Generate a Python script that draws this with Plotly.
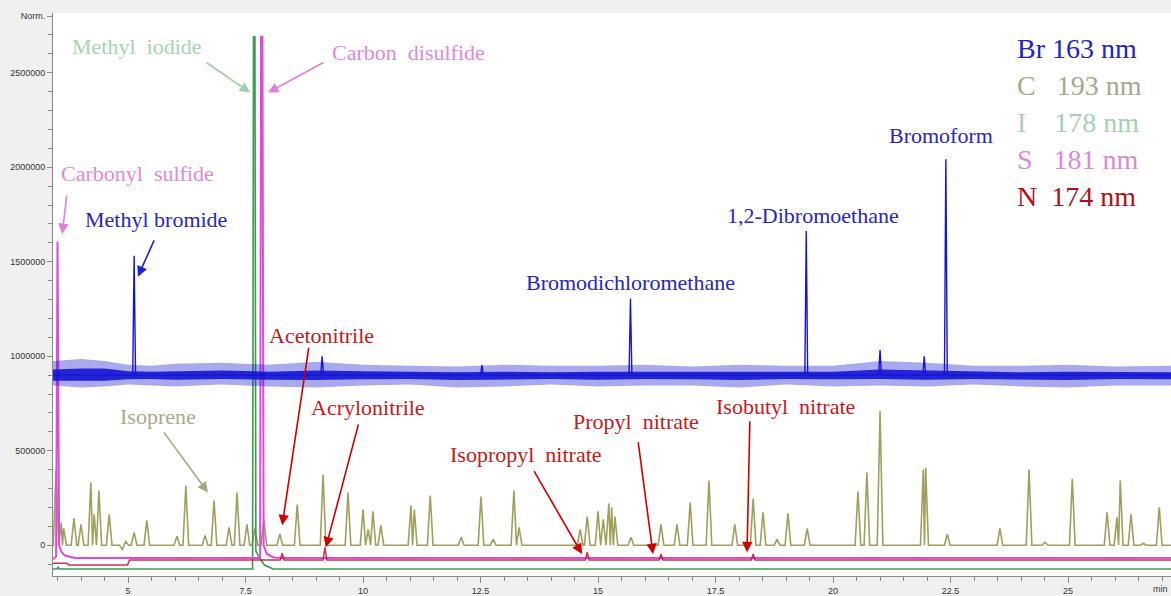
import plotly.graph_objects as go

# ---------------- data ----------------
X_RANGE = [3.404, 27.19]
Y_RANGE = [-163000, 2816000]

# C 193 nm (olive) : retention time (min) and peak height
C_TIMES = [3.47, 3.58, 3.63, 3.85, 4.00, 4.21, 4.28, 4.38, 4.60, 4.88, 4.95, 5.13, 5.40,
           6.04, 6.23, 6.64, 6.83, 7.15, 7.32, 7.53, 7.70, 7.89, 8.23, 8.60, 9.15,
           9.68, 10.00, 10.11, 10.21, 10.38, 11.02, 11.09, 11.43, 12.09, 12.51, 12.77,
           13.21, 13.32, 14.62, 14.77, 15.00, 15.11, 15.23, 15.29, 15.36, 15.70, 16.34,
           16.68, 16.96, 17.36, 17.91, 18.30, 18.51, 18.81, 19.04, 19.45, 20.53, 20.72,
           21.00, 21.92, 21.97, 22.43, 23.55, 24.17, 24.51, 25.09, 25.83, 26.04, 26.11,
           26.34, 26.60, 26.94]
C_HEIGHTS = [400000, 120000, 90000, 142000, 110000, 331000, 163000, 289000, 163000, -25000,
             20000, 68000, 131000, 47000, 315000, 52000, 236000, 94000, 278000, 110000,
             90000, 131000, 60000, 215000, 373000, 278000, 189000, 84000, 179000, 105000,
             210000, 189000, 263000, 42000, 258000, 32000, 289000, 94000, 84000, 152000,
             179000, 137000, 221000, 200000, 152000, 42000, 110000, 110000, 226000, 342000,
             110000, 247000, 174000, 32000, 168000, 89000, 284000, 384000, 710000, 400000,
             410000, 58000, 89000, 400000, 16000, 352000, 174000, 147000, 342000, 163000,
             10000, 200000]
C_BASE = 0

# Br 163 nm (blue) : noisy baseline band and peaks
BR_BASE = 900000
BR_TIMES = [5.13, 9.13, 12.53, 15.69, 19.43, 21.00, 21.94, 22.40]
BR_HEIGHTS = [1531000, 1000000, 953000, 1305000, 1663000, 1032000, 1000000, 2042000]
BAND_T = [3.404, 4.0, 4.5, 5.0, 5.5, 6.0, 7.0, 8.0, 9.0, 10.0, 11.0, 12.0, 13.0, 14.0,
          15.0, 16.0, 17.0, 18.0, 19.0, 20.0, 21.0, 22.0, 23.0, 24.0, 25.0, 26.0, 27.19]
BAND_OUT_HI = [975000, 985000, 975000, 955000, 950000, 960000, 965000, 955000, 970000, 955000,
               950000, 945000, 955000, 950000, 950000, 955000, 945000, 955000, 950000, 950000,
               975000, 965000, 950000, 950000, 955000, 945000, 950000]
BAND_OUT_LO = [845000, 835000, 840000, 850000, 845000, 840000, 850000, 840000, 835000, 845000,
               850000, 835000, 840000, 850000, 840000, 845000, 845000, 835000, 850000, 840000,
               845000, 840000, 850000, 840000, 835000, 845000, 845000]
BAND_IN_HI = [930000, 935000, 935000, 920000, 918000, 920000, 925000, 918000, 925000, 920000,
              918000, 915000, 918000, 915000, 918000, 918000, 915000, 918000, 915000, 918000,
              930000, 925000, 918000, 915000, 918000, 915000, 915000]
BAND_IN_LO = [870000, 868000, 870000, 878000, 880000, 876000, 880000, 876000, 874000, 878000,
              880000, 874000, 878000, 880000, 876000, 880000, 878000, 874000, 880000, 878000,
              880000, 876000, 880000, 876000, 874000, 880000, 878000]

# I 178 nm (green) trace points
I_T = [3.404, 3.49, 3.51, 3.54, 7.65, 7.67, 7.70, 7.72, 7.77, 7.90, 8.09, 27.19]
I_V = [-126000, -126000, -115000, -126000, -126000, 2690000, 2690000, -30000, -55000,
       -105000, -126000, -126000]

# S 181 nm (magenta) trace points
S_T = [3.404, 3.47, 3.50, 3.535, 3.58, 3.66, 3.87, 7.81, 7.83, 7.86, 7.885, 7.95, 8.10,
       8.30, 27.19]
S_V = [-75000, -60000, 1605000, 0, -35000, -55000, -68000, -68000, 2690000, 2690000, 0,
       -45000, -65000, -68000, -68000]

# N 174 nm (red) trace points
N_T = [3.404, 3.70, 3.74, 4.99, 5.03, 8.24, 8.28, 8.32, 9.15, 9.19, 9.23, 14.73, 14.77,
       14.81, 16.30, 16.34, 16.38, 18.26, 18.30, 18.34, 27.19]
N_V = [-95000, -95000, -105000, -105000, -78000, -78000, -42000, -78000, -78000, -12000,
       -78000, -78000, -37000, -78000, -78000, -47000, -78000, -78000, -47000, -78000,
       -78000]

X_TICKS = [5, 7.5, 10, 12.5, 15, 17.5, 20, 22.5, 25, 27.5]
X_TICKTEXT = ["5", "7.5", "10", "12.5", "15", "17.5", "20", "22.5", "25", "27.5"]
Y_TICKS = [0, 500000, 1000000, 1500000, 2000000, 2500000, 2800000]
Y_TICKTEXT = ["0", "500000", "1000000", "1500000", "2000000", "2500000", "Norm."]

# ---------------- styles ----------------
BLUE = "#1414d4"
BLUE_TXT = "#2626c2"
OLIVE = "#a0a05e"
OLIVE_TXT = "#a9a98b"
GREEN = "#3c9a4a"
GREEN_TXT = "#a8d2b4"
MAG = "#e048e0"
MAG_TXT = "#dc8adc"
RED = "#c0102a"
RED_TXT = "#c81818"
SERIF = "Liberation Serif, Times New Roman, serif"
SANS = "Liberation Sans, Arial, sans-serif"


def spikes(times, heights, base, hw, x0, x1):
    order = sorted(range(len(times)), key=lambda i: times[i])
    ts = [times[i] for i in order]
    hs = [heights[i] for i in order]
    xs, ys = [x0], [base]
    for k, (t, h) in enumerate(zip(ts, hs)):
        left = hw if k == 0 else min(hw, (t - ts[k - 1]) / 2)
        right = hw if k == len(ts) - 1 else min(hw, (ts[k + 1] - t) / 2)
        xs += [t - left, t, t + right]
        ys += [base, h, base]
    xs.append(x1)
    ys.append(base)
    return xs, ys


fig = go.Figure()

cx, cy = spikes(C_TIMES, C_HEIGHTS, C_BASE, 0.06, X_RANGE[0], X_RANGE[1])
fig.add_trace(go.Scatter(x=cx, y=cy, mode="lines", line=dict(color=OLIVE, width=1.6)))

fig.add_trace(go.Scatter(x=I_T, y=I_V, mode="lines", line=dict(color=GREEN, width=1.6)))
fig.add_trace(go.Scatter(x=S_T, y=S_V, mode="lines", line=dict(color=MAG, width=2)))
fig.add_trace(go.Scatter(x=N_T, y=N_V, mode="lines", line=dict(color=RED, width=1.5),
                         opacity=0.85))

# blue band (noise envelope)
fig.add_trace(go.Scatter(x=BAND_T, y=BAND_OUT_LO, mode="lines", line=dict(width=0),
                         hoverinfo="skip"))
fig.add_trace(go.Scatter(x=BAND_T, y=BAND_OUT_HI, mode="lines", line=dict(width=0),
                         fill="tonexty", fillcolor="rgba(30,30,215,0.38)", hoverinfo="skip"))
fig.add_trace(go.Scatter(x=BAND_T, y=BAND_IN_LO, mode="lines", line=dict(width=0),
                         hoverinfo="skip"))
fig.add_trace(go.Scatter(x=BAND_T, y=BAND_IN_HI, mode="lines", line=dict(width=0),
                         fill="tonexty", fillcolor="rgba(20,20,212,0.9)", hoverinfo="skip"))
bx, by = spikes(BR_TIMES, BR_HEIGHTS, BR_BASE, 0.03, X_RANGE[0], X_RANGE[1])
fig.add_trace(go.Scatter(x=bx, y=by, mode="lines", line=dict(color=BLUE, width=1.4)))

# ---------------- annotations ----------------
labels = [
    ("Methyl\u00a0 iodide", 5.19, 2637000, GREEN_TXT),
    ("Carbon\u00a0 disulfide", 10.96, 2605000, MAG_TXT),
    ("Carbonyl\u00a0 sulfide", 5.20, 1968000, MAG_TXT),
    ("Methyl bromide", 5.60, 1726000, BLUE_TXT),
    ("Bromodichloromethane", 15.68, 1389000, BLUE_TXT),
    ("1,2-Dibromoethane", 19.57, 1742000, BLUE_TXT),
    ("Bromoform", 22.30, 2168000, BLUE_TXT),
    ("Isoprene", 5.64, 679000, OLIVE_TXT),
    ("Acetonitrile", 9.11, 1110000, RED_TXT),
    ("Acrylonitrile", 10.11, 726000, RED_TXT),
    ("Isopropyl\u00a0 nitrate", 13.47, 479000, RED_TXT),
    ("Propyl\u00a0 nitrate", 15.81, 653000, RED_TXT),
    ("Isobutyl\u00a0 nitrate", 18.98, 732000, RED_TXT),
]
for txt, x, y, col in labels:
    fig.add_annotation(x=x, y=y, text=txt, showarrow=False, xref="x", yref="y",
                       font=dict(family=SERIF, size=22, color=col))

arrows = [  # tip x, tip y, tail x, tail y, colour
    (7.60, 2395000, 6.64, 2558000, "#9fd0aa"),
    (7.98, 2395000, 9.19, 2558000, "#e07ee0"),
    (3.60, 1647000, 3.70, 1858000, "#e07ee0"),
    (5.21, 1421000, 5.57, 1621000, "#2020d0"),
    (6.70, 279000, 5.74, 605000, "#a8a884"),
    (8.28, 105000, 8.85, 1053000, "#cc0000"),
    (9.21, -11000, 9.91, 647000, "#cc0000"),
    (14.66, -47000, 13.62, 400000, "#cc0000"),
    (16.17, -47000, 15.85, 553000, "#cc0000"),
    (18.17, -37000, 18.23, 663000, "#cc0000"),
]
for x, y, ax, ay, col in arrows:
    fig.add_annotation(x=x, y=y, ax=ax, ay=ay, xref="x", yref="y", axref="x", ayref="y",
                       text="", showarrow=True, arrowhead=2, arrowsize=1.3,
                       arrowwidth=1.6, arrowcolor=col)

legend = [
    ("Br 163 nm", "#2323c8"),
    ("C\u00a0\u00a0 193 nm", "#a7a78b"),
    ("I\u00a0\u00a0\u00a0 178 nm", "#a8cfb4"),
    ("S\u00a0\u00a0 181 nm", "#d98ad9"),
    ("N\u00a0 174 nm", "#b01018"),
]
for k, (txt, col) in enumerate(legend):
    fig.add_annotation(x=23.87, y=2626000 - k * 195000, text=txt, showarrow=False,
                       xref="x", yref="y", xanchor="left",
                       font=dict(family=SERIF, size=28, color=col))

fig.add_annotation(x=1, y=0, xref="paper", yref="paper", text="min", showarrow=False,
                   xanchor="right", yanchor="top", xshift=-1, yshift=-6,
                   font=dict(family=SANS, size=9, color="#333"))

fig.update_layout(
    width=1171, height=596,
    margin=dict(l=53, r=0, t=13, b=17),
    paper_bgcolor="#f0f0f0",
    plot_bgcolor="white",
    showlegend=False,
    xaxis=dict(range=X_RANGE, showgrid=False, zeroline=False, showline=True,
               linecolor="#8a8a8a", linewidth=1, ticks="outside", ticklen=6,
               tickcolor="#8a8a8a", tickvals=X_TICKS, ticktext=X_TICKTEXT,
               tickfont=dict(family=SANS, size=9, color="#333"),
               minor=dict(dtick=0.5, tick0=0, ticks="outside", ticklen=4,
                          tickcolor="#8a8a8a", showgrid=False)),
    yaxis=dict(range=Y_RANGE, showgrid=False, zeroline=False, showline=True,
               linecolor="#8a8a8a", linewidth=1, ticks="outside", ticklen=5,
               tickcolor="#8a8a8a", tickvals=Y_TICKS, ticktext=Y_TICKTEXT,
               tickfont=dict(family=SANS, size=9, color="#333"),
               minor=dict(dtick=100000, tick0=0, ticks="outside", ticklen=4,
                          tickcolor="#8a8a8a", showgrid=False)),
)

fig.write_html("out.html")
